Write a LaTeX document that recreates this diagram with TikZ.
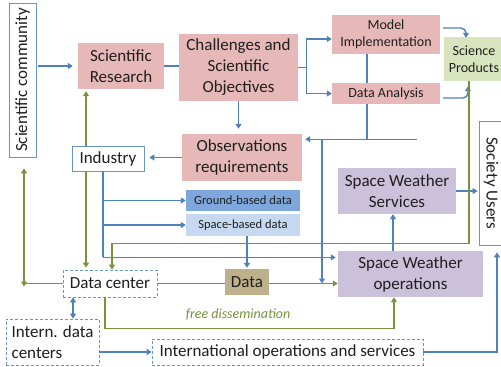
\documentclass[tikz,border=0pt]{standalone}
\usepackage{fontspec}
\setmainfont{Carlito}
\usetikzlibrary{arrows.meta,calc}

\definecolor{pinkc}{HTML}{E6B9B8}
\definecolor{greenc}{HTML}{D7E4BD}
\definecolor{purplec}{HTML}{CCC1DA}
\definecolor{gbluec}{HTML}{7EA7DB}
\definecolor{sbluec}{HTML}{C6D9F1}
\definecolor{datac}{HTML}{BDB08A}
\definecolor{bluel}{HTML}{4F81BD}
\definecolor{greenl}{HTML}{77933C}
\definecolor{txt}{HTML}{1F1F1F}

\tikzset{
  box/.style={inner sep=0pt, align=center, text=txt, font=\fontsize{17}{21}\selectfont},
  pinkbox/.style={box, fill=pinkc},
  greenbox/.style={box, fill=greenc},
  purplebox/.style={box, fill=purplec},
  outline/.style={box, fill=white, draw=bluel!85, line width=0.8pt},
  dashbox/.style={box, fill=white, draw=bluel!85, line width=0.8pt, dash pattern=on 3pt off 2pt},
  small/.style={font=\fontsize{14}{16.5}\selectfont},
  tip/.tip={Triangle[width=6pt,length=5pt]},
  bl/.style={draw=bluel, line width=1.4pt},
  ba/.style={bl, -tip},
  bab/.style={bl, tip-tip},
  gl/.style={draw=greenl, line width=1.4pt},
  ga/.style={gl, -tip},
  gab/.style={gl, tip-tip},
}

\begin{document}
\begin{tikzpicture}[x=1pt,y=-1pt]
\useasboundingbox (0,0) rectangle (501,367);

% boxes
\node[outline, minimum width=27, minimum height=154] (scicom) at (22.5,80) {\rotatebox{90}{Scientific community}};
\node[pinkbox, minimum width=86, minimum height=46] (sr) at (121,66) {Scientific\\Research};
\node[pinkbox, minimum width=119, minimum height=67] (cso) at (238.5,67.5) {Challenges and\\Scientific\\Objectives};
\node[pinkbox, small, minimum width=108, minimum height=39] (mi) at (386,34.5) {Model\\Implementation};
\node[pinkbox, small, minimum width=108, minimum height=21] (da) at (386,93.5) {Data Analysis};
\node[greenbox, small, minimum width=60, minimum height=44] (sp) at (474,59) {Science\\Products};
\node[pinkbox, minimum width=120, minimum height=47] (obs) at (242,157.5) {Observations\\requirements};
\node[outline, minimum width=72, minimum height=25] (ind) at (108,158.5) {Industry};
\node[box, fill=gbluec, font=\fontsize{12.5}{15}\selectfont, minimum width=114, minimum height=21] (gbd) at (243,200.5) {Ground-based data};
\node[box, fill=sbluec, font=\fontsize{12.5}{15}\selectfont, minimum width=114, minimum height=22] (sbd) at (243,225) {Space-based data};
\node[purplebox, minimum width=118, minimum height=46] (sws) at (397,191) {Space Weather\\Services};
\node[outline, minimum width=24, minimum height=124] (soc) at (491,183) {\rotatebox{-90}{Society Users}};
\node[purplebox, minimum width=145, minimum height=46] (swo) at (410.5,274) {Space Weather\\operations};
\node[dashbox, minimum width=94, minimum height=27] (dc) at (110,283.5) {Data center};
\node[box, fill=datac, minimum width=44, minimum height=26] (data) at (247,282) {Data};
\node[dashbox, align=left, minimum width=93, minimum height=46] (idc) at (52.5,342) {Intern. data\\centers};
\node[dashbox, minimum width=271, minimum height=26] (int) at (287.5,352) {International operations and services};
\node[font=\fontsize{14}{16}\selectfont\itshape, text=greenl, inner sep=0pt] (fd) at (238,314) {free dissemination};

% blue connectors
\draw[ba, shorten <=2pt, shorten >=5pt] (scicom.east |- sr.west) -- (sr.west);
\draw[bl] (sr.east) -- (sr.east -| cso.west);
\draw[ba, shorten >=5pt] (cso.south) -- (cso.south |- obs.north);
\coordinate (fork) at ($(cso.east)+(8.5,0)$);
\draw[bl] (cso.east) -- (fork);
\draw[ba] (fork) |- ($(mi.west)+(0,4.5)$);
\draw[ba] (fork) |- (da.west);
\draw[bl] ($(mi.south)+(-19,0)$) -- ($(da.north)+(-19,0)$);
\coordinate (j1) at ($(da.south)+(-19,35)$);
\coordinate (rend) at ($(j1)+(50,0)$);
\draw[bl] ($(da.south)+(-19,0)$) -- (j1);
\draw[ba, shorten >=3pt] (rend) -- (obs.east |- j1);
\coordinate (j2) at ($(j1)+(-45,0)$);
\draw[ba] (j2) -- (j2 |- dc.east);
\draw[ba, rounded corners=5pt] ($(mi.east)+(3,-6.5)$) -| ($(sp.north)+(-8,1)$);
\draw[ba, rounded corners=5pt] ($(da.east)+(3,4.5)$) -| ($(sp.south)+(-6,5)$);
\draw[ba, shorten >=5pt] (obs.west) -- (obs.west -| ind.east);
\coordinate (ib) at ($(ind.south)+(-5,0)$);
\coordinate (ie) at ($(ib)+(0,86)$);
\draw[bl] (ib) -- (ie);
\draw[ba] (ib |- gbd.west) -- (gbd.west);
\draw[ba] (ib |- sbd.west) -- (sbd.west);
\draw[ba, shorten >=2pt] (ie) -- (ie -| swo.west);
\draw[ba, shorten >=1pt] (data.north |- sbd.south) -- (data.north);
\coordinate (sv) at ($(sws.south)+(-4,0)$);
\draw[ba] (sv |- swo.north) -- (sv);
\draw[ba, shorten >=1pt] (sws.east) -- (sws.east -| soc.west);
\coordinate (dv) at ($(dc.south)+(-37,0)$);
\draw[bab] (dv) -- (dv |- idc.north);
\draw[ba] (idc.east |- int.west) -- (int.west);
\draw[ba] (int.east) -| ($(soc.south)+(6,7)$);

% green connectors
\coordinate (gs) at ($(sp.south)+(-5,0)$);
\coordinate (gc) at ($(gs)+(0,162)$);
\draw[ga] (gs) -- (gc) -| ($(dc.north)+(2,0)$);
\coordinate (gi) at ($(ind.north)+(-22,0)$);
\draw[ga, shorten >=2pt] (gi) -- (gi |- sr.south);
\draw[ga, shorten >=2pt] (gi |- ind.south) -- (gi |- dc.north);
\coordinate (gk) at ($(scicom.south)+(1.5,0)$);
\draw[gl] (dc.west) -- (dc.west -| gk);
\draw[gab] ($(gk)+(0,11)$) -- ($(dc.west -| gk)+(0,3)$);
\draw[gl] (dc.east) -- (dc.east -| data.west);
\draw[ga] (data.east |- dc.east) -- (dc.east -| swo.west);
\coordinate (gd) at ($(dc.south)+(-5,0)$);
\coordinate (gb) at ($(gd)+(0,31)$);
\draw[ga] (gd) -- (gb) -| ($(swo.south)+(-16.5,0)$);
\end{tikzpicture}
\end{document}
